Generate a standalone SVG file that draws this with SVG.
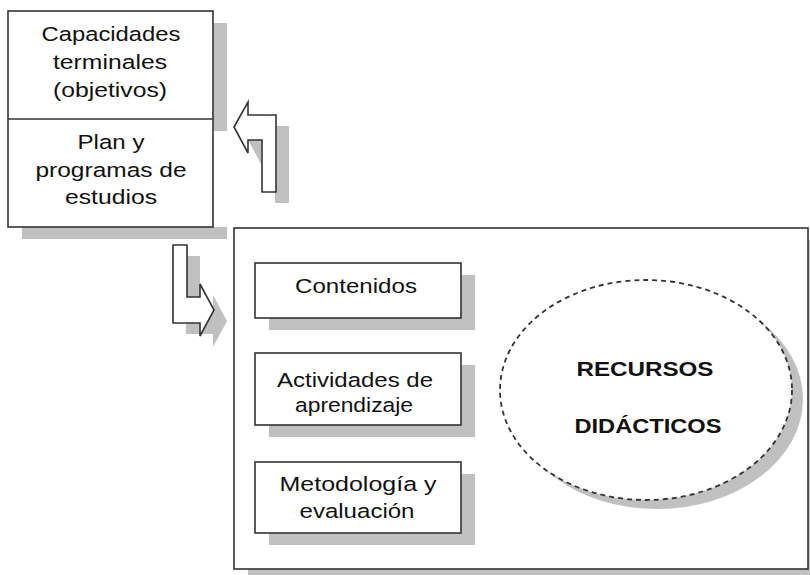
<svg xmlns="http://www.w3.org/2000/svg" width="810" height="575" viewBox="0 0 810 575">
<style>
.sh{fill:#c0c0c0;stroke:none}
.bx{fill:#fff;stroke:#333;stroke-width:1.6}
.t{font-family:"Liberation Sans",Arial,sans-serif;font-size:20.5px;fill:#111;text-anchor:middle}
.b{font-family:"Liberation Sans",Arial,sans-serif;font-size:21px;font-weight:bold;fill:#111;text-anchor:middle}
</style>
<rect width="810" height="575" fill="#fff"/>
<g id="connectors">
<polygon class="sh" transform="translate(13,11)" points="234,127 248,102 248,115 276,115 276,192 262,192 262,140 248,140 248,153"/>
<polygon class="bx" points="234,127 248,102 248,115 276,115 276,192 262,192 262,140 248,140 248,153"/>
<polygon class="sh" transform="translate(13,11)" points="173,245 187,245 187,297 200,297 200,284 214,310 200,336 200,323 173,323"/>
<polygon class="bx" points="173,245 187,245 187,297 200,297 200,284 214,310 200,336 200,323 173,323"/>
</g>
<g id="top-box">
<rect class="sh" x="22" y="23" width="205" height="108"/>
<rect class="sh" x="22" y="227" width="205" height="12"/>
<rect class="bx" x="8" y="11" width="205" height="216"/>
<line x1="8" y1="119" x2="213" y2="119" stroke="#333" stroke-width="1.6"/>
<text class="t" x="111" y="41" textLength="139" lengthAdjust="spacingAndGlyphs">Capacidades</text>
<text class="t" x="110" y="69" textLength="114" lengthAdjust="spacingAndGlyphs">terminales</text>
<text class="t" x="110" y="97" textLength="114" lengthAdjust="spacingAndGlyphs">(objetivos)</text>
<text class="t" x="111" y="149" textLength="67" lengthAdjust="spacingAndGlyphs">Plan y</text>
<text class="t" x="111" y="177" textLength="151" lengthAdjust="spacingAndGlyphs">programas de</text>
<text class="t" x="111" y="204" textLength="92" lengthAdjust="spacingAndGlyphs">estudios</text>
</g>
<g id="main-box">
<rect class="sh" x="248" y="240" width="574" height="341"/>
<rect class="bx" x="234" y="228" width="574" height="341"/>
</g>
<g id="contenidos">
<rect class="sh" x="269" y="275" width="206" height="55"/>
<rect class="bx" x="255" y="263" width="206" height="55"/>
<text class="t" x="356" y="293" textLength="122" lengthAdjust="spacingAndGlyphs">Contenidos</text>
</g>
<g id="actividades">
<rect class="sh" x="269" y="365" width="206" height="72"/>
<rect class="bx" x="255" y="353" width="206" height="72"/>
<text class="t" x="355" y="387" textLength="156" lengthAdjust="spacingAndGlyphs">Actividades de</text>
<text class="t" x="354" y="412" textLength="118" lengthAdjust="spacingAndGlyphs">aprendizaje</text>
</g>
<g id="metodologia">
<rect class="sh" x="269" y="474" width="206" height="71"/>
<rect class="bx" x="255" y="462" width="206" height="71"/>
<text class="t" x="358" y="491" textLength="157" lengthAdjust="spacingAndGlyphs">Metodología y</text>
<text class="t" x="357" y="518" textLength="115" lengthAdjust="spacingAndGlyphs">evaluación</text>
</g>
<g id="recursos">
<ellipse class="sh" cx="657" cy="399" rx="146" ry="110"/>
<ellipse cx="646" cy="390" rx="146" ry="110" fill="#fff" stroke="#333" stroke-width="1.8" stroke-dasharray="5,4"/>
<text class="b" x="645" y="376" textLength="137" lengthAdjust="spacingAndGlyphs">RECURSOS</text>
<text class="b" x="648" y="433" textLength="147" lengthAdjust="spacingAndGlyphs">DIDÁCTICOS</text>
</g>
</svg>
